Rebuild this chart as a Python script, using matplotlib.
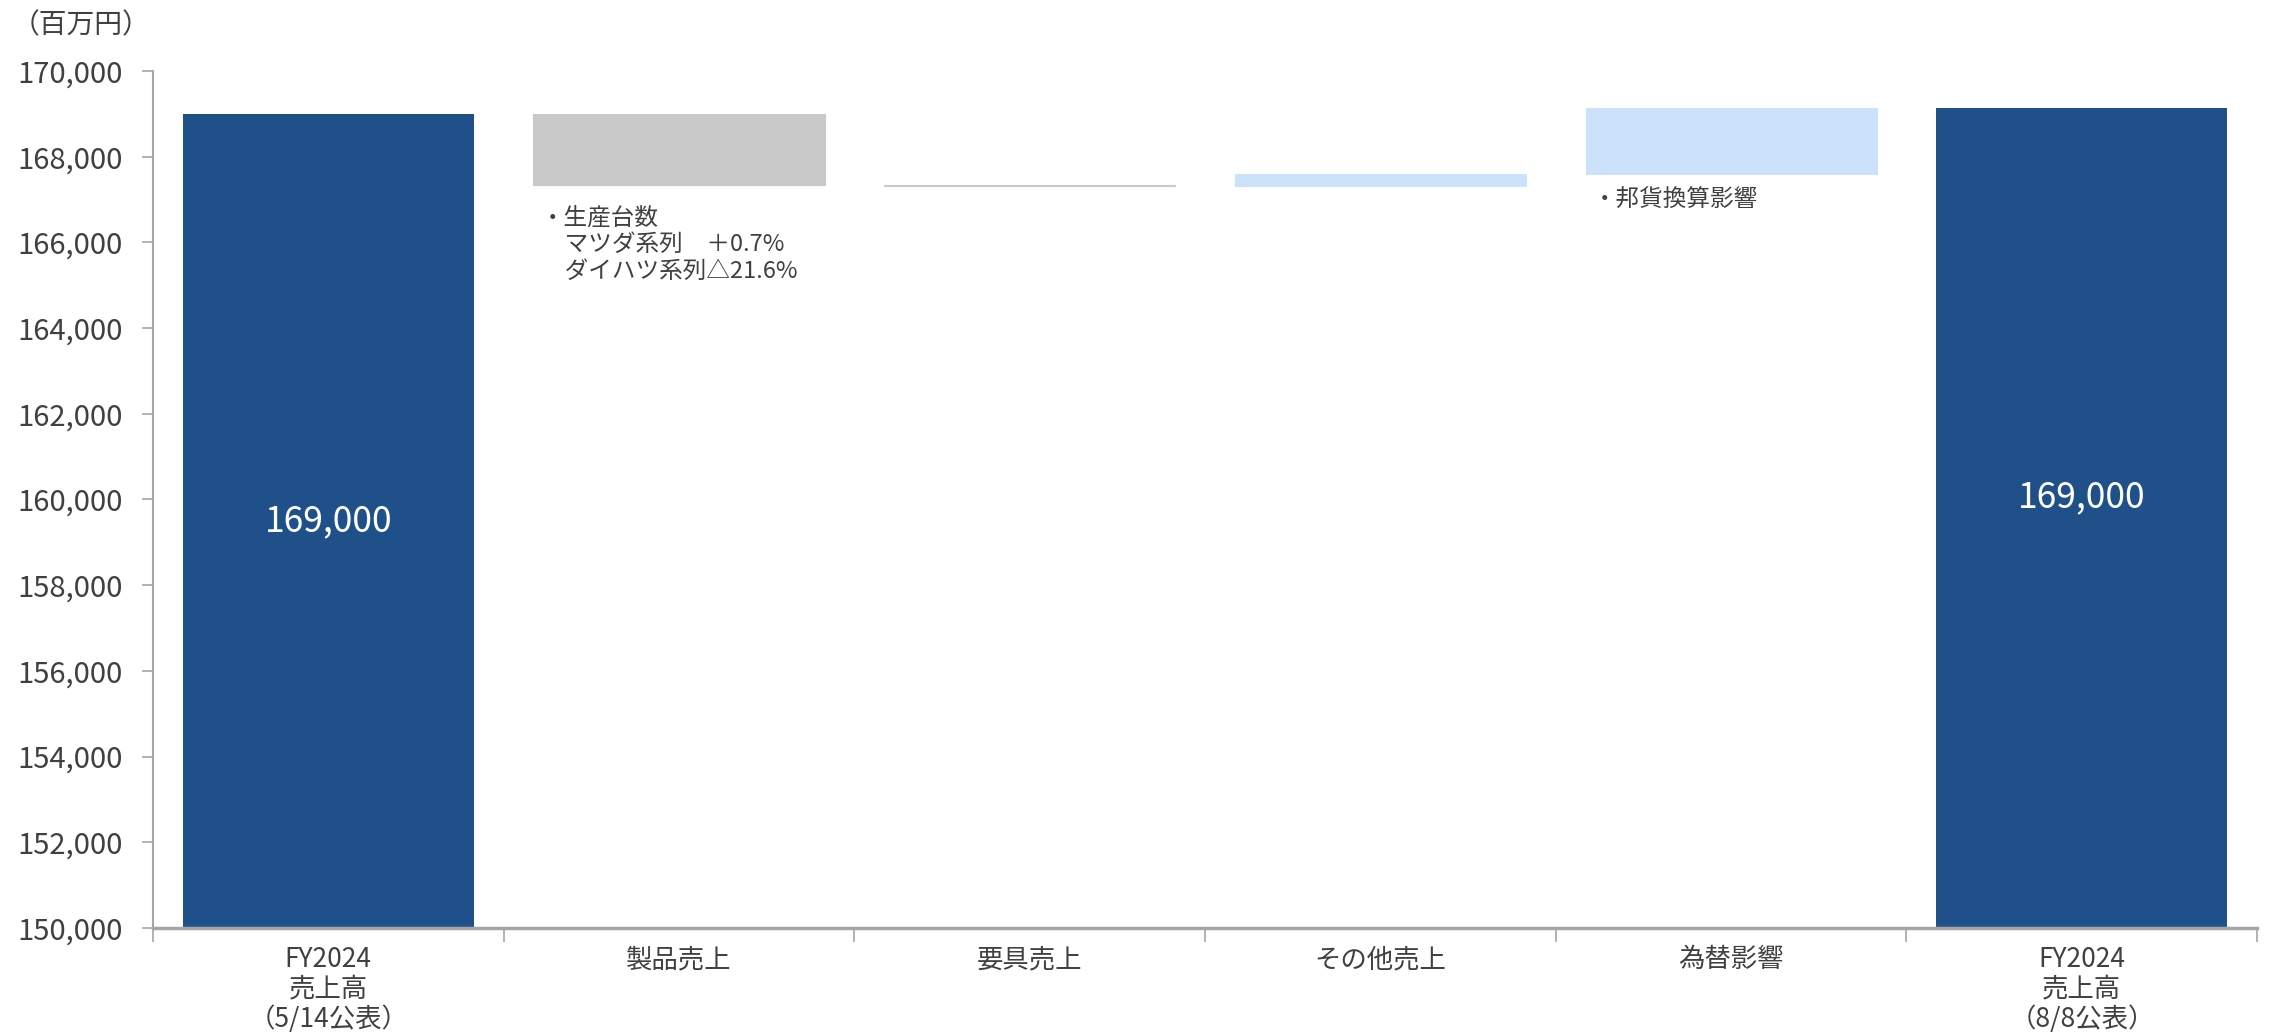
import matplotlib
matplotlib.use("Agg")
import matplotlib.pyplot as plt
import numpy as np

plt.rcParams['font.family'] = ['Noto Sans CJK JP', 'DejaVu Sans']

# データ
categories = ['FY2024\n売上高\n（5/14公表）', '製品売上', '要具売上', 'その他売上', '為替影響',
              'FY2024\n売上高\n（8/8公表）']
start_value = 169000
deltas = [-1650, -45, 300, 1530]
end_value = start_value + sum(deltas)
total_labels = ['169,000', '169,000']
notes = ['・生産台数\n　マツダ系列　＋0.7%\n　ダイハツ系列△21.6%', '', '', '・邦貨換算影響']

c_total = '#20508A'
c_down = '#C9C9C9'
c_up = '#CCE1FA'
c_text = '#404040'
c_axis = '#A6A6A6'

fig = plt.figure(figsize=(22.8, 10.35), dpi=100)
ax = fig.add_axes([0.0671, 0.1034, 0.9229, 0.828])

w = 0.83
x = np.arange(len(categories))

# 合計バー
ax.bar([x[0], x[-1]], [start_value - 150000, end_value - 150000], bottom=150000,
       width=w, color=c_total)

# 増減バー
level = start_value
for i, d in enumerate(deltas):
    col = c_up if d > 0 else c_down
    lo = min(level, level + d)
    ax.bar(x[i + 1], abs(d), bottom=lo, width=w, color=col, edgecolor=col, linewidth=0.8)
    level += d

# バー内ラベル
ax.text(x[0], 159500, total_labels[0], ha='center', va='center', color='white', fontsize=25.5)
ax.text(x[-1], 160050, total_labels[1], ha='center', va='center', color='white', fontsize=25.5)

# 注記
ax.text(x[1] - w / 2 + 0.02, 166840, notes[0], ha='left', va='top', color=c_text,
        fontsize=17, linespacing=1.2)
ax.text(x[4] - w / 2 + 0.02, 167250, notes[3], ha='left', va='top', color=c_text,
        fontsize=17)

ax.set_ylim(150000, 170000)
ax.set_xlim(-0.5, len(categories) - 0.5)
ax.set_yticks(np.arange(150000, 170001, 2000))
ax.set_yticklabels([f'{v:,}' for v in range(150000, 170001, 2000)], fontsize=21, color=c_text)

ax.set_xticks(np.arange(-0.5, len(categories)), minor=False)
ax.set_xticklabels([])
ax.set_xticks(x, minor=True)
ax.set_xticklabels(categories, minor=True, fontsize=19, color=c_text, linespacing=1.12)
ax.tick_params(axis='x', which='minor', length=0, pad=13)
ax.tick_params(axis='x', which='major', length=10, color=c_axis, width=1.2)
ax.tick_params(axis='y', length=8, color=c_axis, width=1.2, pad=14)

for s in ['top', 'right']:
    ax.spines[s].set_visible(False)
ax.spines['left'].set_color(c_axis)
ax.spines['bottom'].set_color(c_axis)
ax.spines['left'].set_linewidth(1.5)
ax.spines['bottom'].set_linewidth(2.5)

fig.text(0.005, 0.99, '（百万円）', ha='left', va='top', fontsize=20, color=c_text)

fig.savefig('out.png', dpi=100)
